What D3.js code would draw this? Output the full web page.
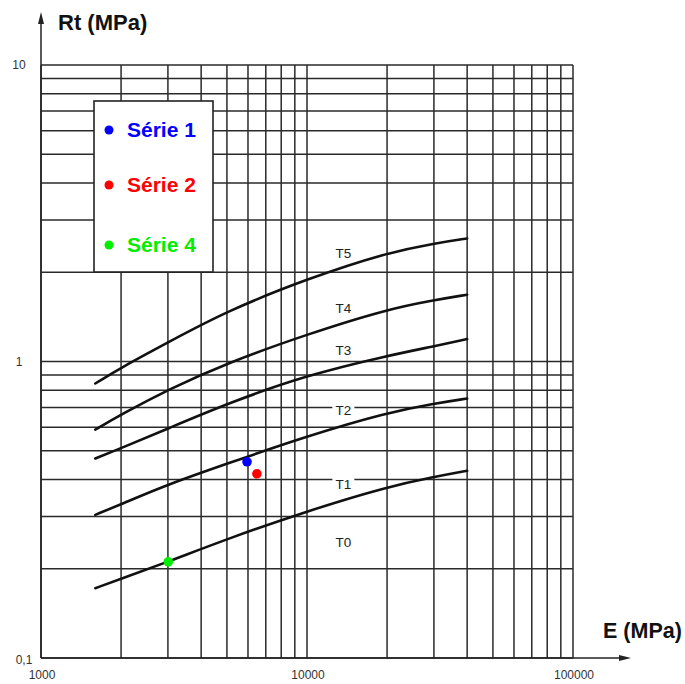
<!DOCTYPE html>
<html><head><meta charset="utf-8">
<script src="https://cdn.jsdelivr.net/npm/d3@7"></script>
<style>body{margin:0;background:#fff}svg{display:block}</style>
</head><body><svg id="c" width="685" height="684"></svg>
<script>
// ---- data ----
const E = [1600, 2000, 3000, 5000, 10000, 20000, 30000, 40000];
const limitT0T1 = [0.172, 0.185, 0.211, 0.252, 0.313, 0.378, 0.408, 0.428];
const limitT1T2 = [0.304, 0.330, 0.385, 0.452, 0.560, 0.672, 0.721, 0.750];
const limitT2T3 = [0.471, 0.510, 0.594, 0.721, 0.900, 1.045, 1.125, 1.19];
const limitT3T4 = [0.589, 0.662, 0.804, 0.988, 1.236, 1.50, 1.61, 1.68];
const limitT4T5 = [0.843, 0.954, 1.16, 1.48, 1.90, 2.33, 2.50, 2.60];
const limits = [limitT0T1, limitT1T2, limitT2T3, limitT3T4, limitT4T5];

const zoneLabels = ["T0", "T1", "T2", "T3", "T4", "T5"];
const zoneLabelE = 13700;
const zoneLabelRt = [0.247, 0.387, 0.688, 1.09, 1.52, 2.33];

const seriesNames = ["Série 1", "Série 2", "Série 4"];
const seriesE = [5950, 6480, 3010];
const seriesRt = [0.459, 0.418, 0.211];
const seriesColors = ["#0000ff", "#ff0000", "#00ee00"];

const xTickValues = [1000, 10000, 100000];
const xTickLabels = ["1000", "10000", "100000"];
const yTickValues = [0.1, 1, 10];
const yTickLabels = ["0,1", "1", "10"];

const xTitle = "E (MPa)";
const yTitle = "Rt (MPa)";

// ---- drawing ----
const svg = d3.select("#c");
const x = d3.scaleLog().domain([1000, 100000]).range([41, 573]);
const y = d3.scaleLog().domain([0.1, 10]).range([658, 65]);
const FONT = "'Liberation Sans', Arial, sans-serif";
const gridColor = "#2a2a2a";

// grid
const g = svg.append("g");
g.selectAll("line.v").data(x.ticks()).join("line")
  .attr("x1", d => x(d)).attr("x2", d => x(d))
  .attr("y1", y(0.1)).attr("y2", y(10))
  .attr("stroke", gridColor).attr("stroke-width", 1.5);
g.selectAll("line.h").data(y.ticks()).join("line")
  .attr("y1", d => y(d)).attr("y2", d => y(d))
  .attr("x1", x(1000)).attr("x2", x(100000))
  .attr("stroke", gridColor).attr("stroke-width", 1.5);

// axes with arrows
svg.append("line").attr("x1", x(1000)).attr("x2", x(1000))
  .attr("y1", y(0.1)).attr("y2", 18).attr("stroke", "#222").attr("stroke-width", 1.5);
svg.append("path").attr("d", `M${x(1000)},12 L${x(1000)-3},24 L${x(1000)+3},24 Z`).attr("fill", "#222");
svg.append("line").attr("x1", x(1000)).attr("x2", 625)
  .attr("y1", y(0.1)).attr("y2", y(0.1)).attr("stroke", "#222").attr("stroke-width", 1.5);
svg.append("path").attr("d", `M631,${y(0.1)} L619,${y(0.1)-3} L619,${y(0.1)+3} Z`).attr("fill", "#222");

// tick labels
svg.selectAll("text.xt").data(xTickValues).join("text")
  .attr("x", d => x(d) + 1).attr("y", 679)
  .attr("text-anchor", "middle").attr("font-family", FONT).attr("font-size", 12)
  .attr("fill", "#333").text((d, i) => xTickLabels[i]);
svg.selectAll("text.yt").data(yTickValues).join("text")
  .attr("x", (d, i) => i === 0 ? 24 : 19).attr("y", (d, i) => y(d) + (i === 0 ? 6 : 4))
  .attr("text-anchor", "middle").attr("font-family", FONT).attr("font-size", 12)
  .attr("fill", "#333").text((d, i) => yTickLabels[i]);

// titles
svg.append("text").attr("x", 58).attr("y", 30).attr("font-family", FONT)
  .attr("font-size", 22).attr("font-weight", "bold").attr("fill", "#111").text(yTitle);
svg.append("text").attr("x", 603).attr("y", 638).attr("font-family", FONT)
  .attr("font-size", 21.5).attr("font-weight", "bold").attr("fill", "#111").text(xTitle);

// limit curves
const line = d3.line().x(d => x(d[0])).y(d => y(d[1])).curve(d3.curveBasis);
svg.selectAll("path.lim").data(limits).join("path")
  .attr("d", vals => line(E.map((e, i) => [e, vals[i]])))
  .attr("fill", "none").attr("stroke", "#111").attr("stroke-width", 2.6)
  .attr("stroke-linecap", "round");

// zone labels
const zl = svg.append("g");
zl.selectAll("rect").data(zoneLabelRt).join("rect")
  .attr("x", x(zoneLabelE) - 11).attr("y", d => y(d) - 7)
  .attr("width", 22).attr("height", 14).attr("fill", "#fff");
zl.selectAll("text").data(zoneLabelRt).join("text")
  .attr("x", x(zoneLabelE)).attr("y", d => y(d) + 5)
  .attr("text-anchor", "middle").attr("font-family", FONT).attr("font-size", 13.5)
  .attr("fill", "#222").text((d, i) => zoneLabels[i]);

// legend
const lg = svg.append("g");
lg.append("rect").attr("x", 94).attr("y", 101).attr("width", 119).attr("height", 171)
  .attr("fill", "#fff").attr("stroke", "#222").attr("stroke-width", 1.6);
const legY = [130, 185, 245];
lg.selectAll("circle").data(seriesNames).join("circle")
  .attr("cx", 109).attr("cy", (d, i) => legY[i]).attr("r", 4.5)
  .attr("fill", (d, i) => seriesColors[i]);
lg.selectAll("text").data(seriesNames).join("text")
  .attr("x", 127).attr("y", (d, i) => legY[i] + 7)
  .attr("font-family", FONT).attr("font-size", 21).attr("font-weight", "bold")
  .attr("fill", (d, i) => seriesColors[i]).text(d => d);

// data points
svg.selectAll("circle.pt").data(seriesE).join("circle")
  .attr("cx", d => x(d)).attr("cy", (d, i) => y(seriesRt[i])).attr("r", 4.8)
  .attr("fill", (d, i) => seriesColors[i]);
</script>
</body></html>
